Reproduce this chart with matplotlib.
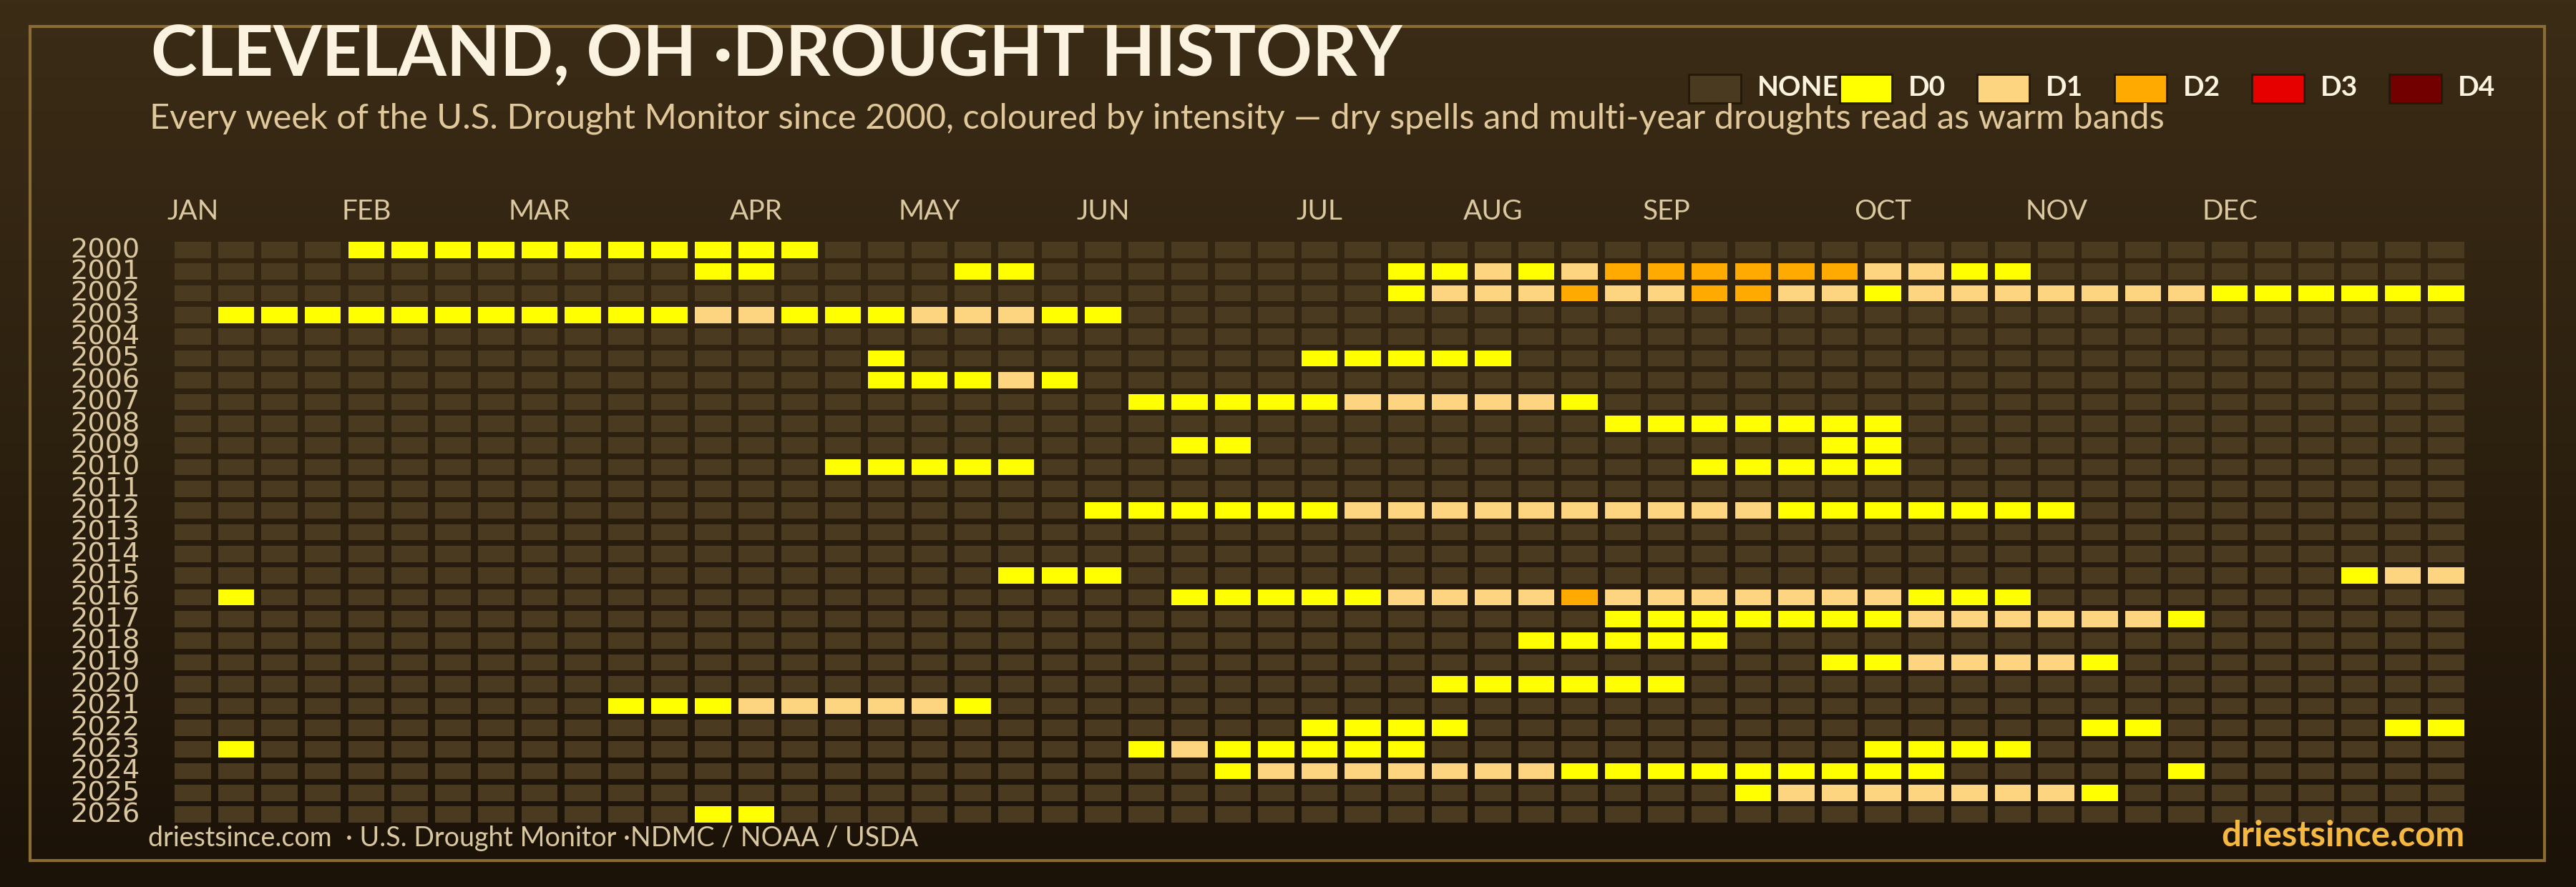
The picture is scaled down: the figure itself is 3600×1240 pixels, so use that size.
import numpy as np
import matplotlib
matplotlib.use("Agg")
import matplotlib.pyplot as plt
from matplotlib.patches import Rectangle
from matplotlib.colors import LinearSegmentedColormap
from matplotlib.transforms import blended_transform_factory

# ---------------- data ----------------
years = list(range(2000, 2027))
n_weeks = 53
months = ["JAN", "FEB", "MAR", "APR", "MAY", "JUN", "JUL", "AUG", "SEP", "OCT", "NOV", "DEC"]
month_start_week = [0, 4, 8, 13, 17, 21, 26, 30, 34, 39, 43, 47]
legend_labels = ["NONE", "D0", "D1", "D2", "D3", "D4"]
level_colors = ["#4a3a20", "#ffff00", "#fdd47f", "#ffaa00", "#e60000", "#730000"]

# drought runs per year: (first week, last week, level) with level 0=D0 .. 4=D4
intensity_runs = [
    [(4, 14, 0)],                                                                   # 2000
    [(12, 13, 0), (18, 19, 0), (28, 29, 0), (30, 30, 1), (31, 31, 0), (32, 32, 1),
     (33, 38, 2), (39, 40, 1), (41, 42, 0)],                                        # 2001
    [(28, 28, 0), (29, 31, 1), (32, 32, 2), (33, 34, 1), (35, 36, 2), (37, 38, 1),
     (39, 39, 0), (40, 46, 1), (47, 52, 0)],                                        # 2002
    [(1, 11, 0), (12, 13, 1), (14, 16, 0), (17, 19, 1), (20, 21, 0)],               # 2003
    [],                                                                             # 2004
    [(16, 16, 0), (26, 30, 0)],                                                     # 2005
    [(16, 18, 0), (19, 19, 1), (20, 20, 0)],                                        # 2006
    [(22, 26, 0), (27, 31, 1), (32, 32, 0)],                                        # 2007
    [(33, 39, 0)],                                                                  # 2008
    [(23, 24, 0), (38, 39, 0)],                                                     # 2009
    [(15, 19, 0), (35, 39, 0)],                                                     # 2010
    [],                                                                             # 2011
    [(21, 26, 0), (27, 36, 1), (37, 43, 0)],                                        # 2012
    [],                                                                             # 2013
    [],                                                                             # 2014
    [(19, 21, 0), (50, 50, 0), (51, 52, 1)],                                        # 2015
    [(1, 1, 0), (23, 27, 0), (28, 31, 1), (32, 32, 2), (33, 39, 1), (40, 42, 0)],   # 2016
    [(33, 39, 0), (40, 45, 1), (46, 46, 0)],                                        # 2017
    [(31, 35, 0)],                                                                  # 2018
    [(38, 39, 0), (40, 43, 1), (44, 44, 0)],                                        # 2019
    [(29, 34, 0)],                                                                  # 2020
    [(10, 12, 0), (13, 17, 1), (18, 18, 0)],                                        # 2021
    [(26, 29, 0), (44, 45, 0), (51, 52, 0)],                                        # 2022
    [(1, 1, 0), (22, 22, 0), (23, 23, 1), (24, 28, 0), (39, 42, 0)],                # 2023
    [(24, 24, 0), (25, 31, 1), (32, 40, 0), (46, 46, 0)],                           # 2024
    [(36, 36, 0), (37, 43, 1), (44, 44, 0)],                                        # 2025
    [(12, 13, 0)],                                                                  # 2026
]

title = "CLEVELAND, OH \u00b7DROUGHT HISTORY"
subtitle = ("Every week of the U.S. Drought Monitor since 2000, coloured by intensity \u2014 "
            "dry spells and multi-year droughts read as warm bands")
source = "driestsince.com  \u00b7 U.S. Drought Monitor \u00b7NDMC / NOAA / USDA"
brand = "driestsince.com"

# ---------------- figure ----------------
W, H = 3600, 1240
DPI = 100
FONT = ["Lato", "DejaVu Sans"]
plt.rcParams["font.family"] = FONT

fig = plt.figure(figsize=(W / DPI, H / DPI), dpi=DPI)

def fx(px):
    return px / W

def fy(px):
    return 1 - px / H

# background gradient
bg = fig.add_axes([0, 0, 1, 1], zorder=-10)
cmap_bg = LinearSegmentedColormap.from_list("bg", ["#3b2c16", "#2c200f", "#1b1208"])
bg.imshow(np.linspace(0, 1, 256).reshape(-1, 1), aspect="auto", cmap=cmap_bg,
          extent=[0, 1, 0, 1], origin="upper")
bg.set_axis_off()

# frame
fig.patches.append(Rectangle((fx(42), fy(1203)), fx(3556) - fx(42), fy(37) - fy(1203),
                             transform=fig.transFigure, fill=False,
                             edgecolor="#8a6c37", linewidth=3.0, zorder=-5))

# grid axes
grid = np.full((len(years), n_weeks), -1)
for r, runs in enumerate(intensity_runs):
    for s, e, lv in runs:
        grid[r, s:e + 1] = lv

cell_w, cell_h = 0.834, 0.748
x_left, x_right = 244.3, 3444.0
y_top, y_bot = 338.0, 1150.0
ax = fig.add_axes([fx(x_left), fy(y_bot), fx(x_right) - fx(x_left), (y_bot - y_top) / H])
ax.set_xlim(0, n_weeks - 1 + cell_w)
ax.set_ylim(len(years) - 1 + cell_h, 0)
ax.set_axis_off()

weeks = np.arange(n_weeks)
for r, yr in enumerate(years):
    cols = [level_colors[v + 1] for v in grid[r]]
    ax.bar(weeks, cell_h, bottom=r, width=cell_w, align="edge", color=cols, linewidth=0)
    ax.text(-0.81, r + 0.73, str(yr), ha="right", va="baseline", fontsize=27.5,
            family=["DejaVu Sans"], color="#dcc8a0", clip_on=False)

trans_mx = blended_transform_factory(ax.transData, fig.transFigure)
for name, wk in zip(months, month_start_week):
    ax.text(wk + cell_w / 2, fy(307), name, transform=trans_mx, ha="center",
            va="baseline", fontsize=28, color="#dcc8a0")

# texts
renderer = fig.canvas.get_renderer()

def fit(t, target):
    bb = t.get_window_extent(renderer=renderer)
    t.set_fontsize(t.get_fontsize() * target / bb.width)

t_title = fig.text(fx(211), fy(106), title, fontsize=70, fontweight="bold",
                   color="#fbf3e0", ha="left", va="baseline")
fit(t_title, 1750)
t_sub = fig.text(fx(209), fy(180), subtitle, fontsize=33, color="#e0c89b",
                 ha="left", va="baseline")
fit(t_sub, 2820)
t_src = fig.text(fx(207), fy(1183), source, fontsize=26, color="#d9c7a0",
                 ha="left", va="baseline")
fit(t_src, 1074)
t_brand = fig.text(fx(3444), fy(1183), brand, fontsize=30, fontweight="bold",
                   color="#f5b942", ha="right", va="baseline")
fit(t_brand, 340)

# legend
box_w, box_h = 73, 40
for i, (lab, col) in enumerate(zip(legend_labels, level_colors)):
    x0 = 2360 if i == 0 else 2379 + 192 * i
    fig.patches.append(Rectangle((fx(x0), fy(104 + box_h)), box_w / W, box_h / H,
                                 transform=fig.transFigure, facecolor=col,
                                 edgecolor="#231909", linewidth=2.0))
    fig.text(fx(x0 + 96), fy(134), lab, fontsize=28, fontweight="bold",
             color="#fbf3e0", ha="left", va="baseline")

fig.savefig("out.png", dpi=DPI)
